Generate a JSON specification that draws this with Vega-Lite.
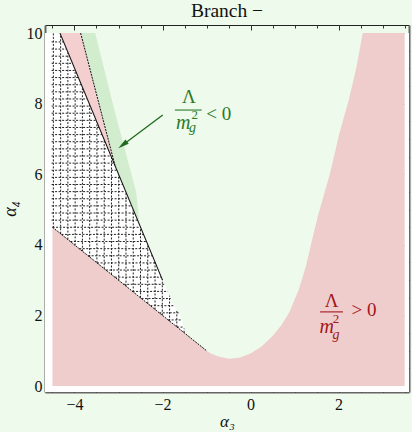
{
  "$schema": "https://vega.github.io/schema/vega-lite/v6.json",
  "width": 364,
  "height": 367,
  "autosize": {"type": "none"},
  "padding": {"left": 45, "top": 25, "right": 3, "bottom": 40},
  "background": "#eefaeb",
  "config": {
    "view": {"stroke": null},
    "font": "Liberation Serif",
    "axis": {"grid": false, "labelFont": "Liberation Serif", "titleFont": "Liberation Serif", "labelColor": "#111", "titleColor": "#111", "tickColor": "#333"}
  },
  "title": {"text": "Branch −", "font": "Liberation Serif", "fontSize": 19.5, "fontWeight": "normal", "color": "#111", "offset": 3},
  "datasets": {
    "strips": [
      {"x": -4.67, "x2": -4.5, "y": -0.17, "y2": 10},
      {"x": -4.67, "x2": 3.6, "y": -0.17, "y2": 0},
      {"x": 3.5, "x2": 3.6, "y": -0.17, "y2": 10}
    ],
    "positive": [
      {"x": -4.5, "top": 4.5}, {"x": -4.0, "top": 4.0}, {"x": -3.0, "top": 3.0}, {"x": -2.0, "top": 2.0},
      {"x": -1.0, "top": 1.0}, {"x": -0.9, "top": 0.92}, {"x": -0.75, "top": 0.84}, {"x": -0.5, "top": 0.77},
      {"x": -0.25, "top": 0.8}, {"x": 0.0, "top": 0.92}, {"x": 0.25, "top": 1.12}, {"x": 0.5, "top": 1.42},
      {"x": 0.7, "top": 1.72}, {"x": 0.88, "top": 2.08}, {"x": 1.1, "top": 2.75}, {"x": 1.26, "top": 3.4},
      {"x": 1.4, "top": 4.15}, {"x": 1.53, "top": 4.82}, {"x": 1.8, "top": 6.0}, {"x": 2.02, "top": 7.16},
      {"x": 2.23, "top": 8.1}, {"x": 2.4, "top": 9.0}, {"x": 2.55, "top": 10}, {"x": 3.5, "top": 10}
    ],
    "dotted": [
      {"x": -4.52, "top": 10, "bot": 4.52}, {"x": -4.33, "top": 10, "bot": 4.33}, {"x": -2.0, "top": 3.0, "bot": 2.0},
      {"x": -1.94, "top": 2.85, "bot": 1.94}, {"x": -1.87, "top": 2.65, "bot": 1.87}, {"x": -1.79, "top": 2.4, "bot": 1.79},
      {"x": -1.6, "top": 2.0, "bot": 1.6}, {"x": -1.5, "top": 1.6, "bot": 1.5}, {"x": -1.45, "top": 1.45, "bot": 1.45}
    ],
    "grid": [
      {"x": -4.48, "x2": -4.48, "y": 4.48, "y2": 10},
      {"x": -4.315, "x2": -4.315, "y": 4.315, "y2": 9.94},
      {"x": -4.15, "x2": -4.15, "y": 4.15, "y2": 9.45},
      {"x": -3.985, "x2": -3.985, "y": 3.985, "y2": 8.955},
      {"x": -3.82, "x2": -3.82, "y": 3.82, "y2": 8.46},
      {"x": -3.655, "x2": -3.655, "y": 3.655, "y2": 7.965},
      {"x": -3.49, "x2": -3.49, "y": 3.49, "y2": 7.47},
      {"x": -3.325, "x2": -3.325, "y": 3.325, "y2": 6.975},
      {"x": -3.16, "x2": -3.16, "y": 3.16, "y2": 6.48},
      {"x": -2.995, "x2": -2.995, "y": 2.995, "y2": 5.985},
      {"x": -2.83, "x2": -2.83, "y": 2.83, "y2": 5.49},
      {"x": -2.665, "x2": -2.665, "y": 2.665, "y2": 4.995},
      {"x": -2.5, "x2": -2.5, "y": 2.5, "y2": 4.5},
      {"x": -2.335, "x2": -2.335, "y": 2.335, "y2": 4.005},
      {"x": -2.17, "x2": -2.17, "y": 2.17, "y2": 3.51},
      {"x": -2.005, "x2": -2.005, "y": 2.005, "y2": 3.015},
      {"x": -1.84, "x2": -1.84, "y": 1.84, "y2": 2.56},
      {"x": -1.675, "x2": -1.675, "y": 1.675, "y2": 2.16},
      {"x": -1.51, "x2": -1.51, "y": 1.51, "y2": 1.63},
      {"x": -4.52, "x2": -4.25, "y": 9.75, "y2": 9.75},
      {"x": -4.52, "x2": -4.183, "y": 9.548, "y2": 9.548},
      {"x": -4.52, "x2": -4.115, "y": 9.346, "y2": 9.346},
      {"x": -4.52, "x2": -4.048, "y": 9.144, "y2": 9.144},
      {"x": -4.52, "x2": -3.981, "y": 8.942, "y2": 8.942},
      {"x": -4.52, "x2": -3.913, "y": 8.74, "y2": 8.74},
      {"x": -4.52, "x2": -3.846, "y": 8.538, "y2": 8.538},
      {"x": -4.52, "x2": -3.779, "y": 8.336, "y2": 8.336},
      {"x": -4.52, "x2": -3.711, "y": 8.134, "y2": 8.134},
      {"x": -4.52, "x2": -3.644, "y": 7.932, "y2": 7.932},
      {"x": -4.52, "x2": -3.577, "y": 7.73, "y2": 7.73},
      {"x": -4.52, "x2": -3.509, "y": 7.528, "y2": 7.528},
      {"x": -4.52, "x2": -3.442, "y": 7.326, "y2": 7.326},
      {"x": -4.52, "x2": -3.375, "y": 7.124, "y2": 7.124},
      {"x": -4.52, "x2": -3.307, "y": 6.922, "y2": 6.922},
      {"x": -4.52, "x2": -3.24, "y": 6.72, "y2": 6.72},
      {"x": -4.52, "x2": -3.173, "y": 6.518, "y2": 6.518},
      {"x": -4.52, "x2": -3.105, "y": 6.316, "y2": 6.316},
      {"x": -4.52, "x2": -3.038, "y": 6.114, "y2": 6.114},
      {"x": -4.52, "x2": -2.971, "y": 5.912, "y2": 5.912},
      {"x": -4.52, "x2": -2.903, "y": 5.71, "y2": 5.71},
      {"x": -4.52, "x2": -2.836, "y": 5.508, "y2": 5.508},
      {"x": -4.52, "x2": -2.769, "y": 5.306, "y2": 5.306},
      {"x": -4.52, "x2": -2.701, "y": 5.104, "y2": 5.104},
      {"x": -4.52, "x2": -2.634, "y": 4.902, "y2": 4.902},
      {"x": -4.52, "x2": -2.567, "y": 4.7, "y2": 4.7},
      {"x": -4.498, "x2": -2.499, "y": 4.498, "y2": 4.498},
      {"x": -4.296, "x2": -2.432, "y": 4.296, "y2": 4.296},
      {"x": -4.094, "x2": -2.365, "y": 4.094, "y2": 4.094},
      {"x": -3.892, "x2": -2.297, "y": 3.892, "y2": 3.892},
      {"x": -3.69, "x2": -2.23, "y": 3.69, "y2": 3.69},
      {"x": -3.488, "x2": -2.163, "y": 3.488, "y2": 3.488},
      {"x": -3.286, "x2": -2.095, "y": 3.286, "y2": 3.286},
      {"x": -3.084, "x2": -2.028, "y": 3.084, "y2": 3.084},
      {"x": -2.882, "x2": -1.953, "y": 2.882, "y2": 2.882},
      {"x": -2.68, "x2": -1.88, "y": 2.68, "y2": 2.68},
      {"x": -2.478, "x2": -1.815, "y": 2.478, "y2": 2.478},
      {"x": -2.276, "x2": -1.731, "y": 2.276, "y2": 2.276},
      {"x": -2.074, "x2": -1.635, "y": 2.074, "y2": 2.074},
      {"x": -1.872, "x2": -1.568, "y": 1.872, "y2": 1.872},
      {"x": -1.67, "x2": -1.518, "y": 1.67, "y2": 1.67}
    ],
    "pinkstrip": [
      {"x": -4.33, "top": 10, "bot": 10}, {"x": -3.86, "top": 10, "bot": 8.58}, {"x": -3.08, "top": 6.25, "bot": 6.24}
    ],
    "greenstrip": [
      {"y": 4.65, "xl": -2.55, "xr": -2.53}, {"y": 5.5, "xl": -2.83, "xr": -2.6}, {"y": 6.25, "xl": -3.08, "xr": -2.76},
      {"y": 8.0, "xl": -3.44, "xr": -3.13}, {"y": 10, "xl": -3.86, "xr": -3.53}
    ],
    "solid": [{"x": -4.33, "y": 10}, {"x": -2.0, "y": 3.0}],
    "dashes": [
      {"x": -4.5, "y": 4.5, "x2": -1.0, "y2": 1.0},
      {"x": -3.86, "y": 10, "x2": -3.08, "y2": 6.25}
    ],
    "arrow": [{"x": -1.995, "y": 7.68, "x2": -2.905, "y2": 6.83}],
    "bars": [
      {"x": -1.72, "x2": -1.11, "y": 7.82, "sign": "neg"},
      {"x": 1.58, "x2": 2.1, "y": 2.1, "sign": "pos"}
    ],
    "labels": [
      {"x": -1.4, "y": 8.19, "t": "Λ", "part": "big", "sign": "neg"},
      {"x": -1.53, "y": 7.45, "t": "m", "part": "it", "sign": "neg"},
      {"x": -1.27, "y": 7.68, "t": "2", "part": "sup", "sign": "neg"},
      {"x": -1.32, "y": 7.31, "t": "g", "part": "sub", "sign": "neg"},
      {"x": -0.72, "y": 7.71, "t": "< 0", "part": "big", "sign": "neg"},
      {"x": 1.84, "y": 2.42, "t": "Λ", "part": "big", "sign": "pos"},
      {"x": 1.73, "y": 1.67, "t": "m", "part": "it", "sign": "pos"},
      {"x": 1.94, "y": 1.9, "t": "2", "part": "sup", "sign": "pos"},
      {"x": 1.94, "y": 1.44, "t": "g", "part": "sub", "sign": "pos"},
      {"x": 2.58, "y": 2.15, "t": "> 0", "part": "big", "sign": "pos"}
    ]
  },
  "layer": [
    {
      "data": {"name": "strips"},
      "mark": {"type": "rect", "fill": "#ffffff"},
      "encoding": {
        "x": {"field": "x", "type": "quantitative", "scale": {"domain": [-4.67, 3.6], "nice": false, "zero": false},
          "axis": {"orient": "bottom", "values": [-4, -2, 0, 2], "ticks": false, "domainColor": "#666", "domainWidth": 2, "labelFontSize": 16, "labelPadding": 4, "title": "α₃", "titleFontSize": 17, "titleFontStyle": "italic", "titleFontWeight": "normal", "titlePadding": 1}},
        "x2": {"field": "x2"},
        "y": {"field": "y", "type": "quantitative", "scale": {"domain": [-0.17, 10.23], "nice": false, "zero": false},
          "axis": {"orient": "left", "values": [0, 2, 4, 6, 8, 10], "ticks": false, "domainColor": "#666", "domainWidth": 2, "labelFontSize": 16, "labelPadding": 3, "title": "α₄", "titleFontSize": 18, "titleFontStyle": "italic", "titleFontWeight": "normal", "titlePadding": 7}},
        "y2": {"field": "y2"}
      }
    },
    {
      "data": {"name": "positive"},
      "mark": {"type": "area", "orient": "vertical", "fill": "#efcdcd"},
      "encoding": {
        "x": {"field": "x", "type": "quantitative", "scale": {"domain": [-4.67, 3.6], "nice": false, "zero": false},
          "axis": {"orient": "bottom", "values": [-4, -2, 0, 2], "labels": false, "domain": false, "tickSize": -5, "title": null}},
        "y": {"field": "top", "type": "quantitative", "scale": {"domain": [-0.17, 10.23], "nice": false, "zero": false},
          "axis": {"orient": "left", "values": [0, 2, 4, 6, 8, 10], "labels": false, "domain": false, "tickSize": -5, "title": null}},
        "y2": {"datum": 0}
      }
    },
    {
      "data": {"name": "dotted"},
      "mark": {"type": "area", "orient": "vertical", "fill": "#ffffff"},
      "encoding": {
        "x": {"field": "x", "type": "quantitative", "scale": {"domain": [-4.67, 3.6], "nice": false, "zero": false},
          "axis": {"orient": "bottom", "values": [-4.5, -3.5, -3, -2.5, -1.5, -1, -0.5, 0.5, 1, 1.5, 2.5, 3, 3.5], "labels": false, "domain": false, "tickSize": -3, "title": null}},
        "y": {"field": "top", "type": "quantitative", "scale": {"domain": [-0.17, 10.23], "nice": false, "zero": false},
          "axis": {"orient": "left", "values": [0.5, 1, 1.5, 2.5, 3, 3.5, 4.5, 5, 5.5, 6.5, 7, 7.5, 8.5, 9, 9.5], "labels": false, "domain": false, "tickSize": -3, "title": null}},
        "y2": {"field": "bot"}
      }
    },
    {
      "data": {"name": "grid"},
      "mark": {"type": "rule", "color": "#222", "strokeWidth": 1, "strokeDash": [2, 1.5]},
      "encoding": {
        "x": {"field": "x", "type": "quantitative", "scale": {"domain": [-4.67, 3.6], "nice": false, "zero": false},
          "axis": {"orient": "top", "values": [-4, -2, 0, 2], "labels": false, "domainColor": "#222", "domainWidth": 1, "tickSize": -5, "title": null}},
        "x2": {"field": "x2"},
        "y": {"field": "y", "type": "quantitative", "scale": {"domain": [-0.17, 10.23], "nice": false, "zero": false},
          "axis": {"orient": "right", "values": [0, 2, 4, 6, 8, 10], "labels": false, "domainColor": "#666", "domainWidth": 2, "tickSize": -5, "title": null}},
        "y2": {"field": "y2"}
      }
    },
    {
      "data": {"name": "pinkstrip"},
      "mark": {"type": "area", "orient": "vertical", "fill": "#f3cfcf"},
      "encoding": {
        "x": {"field": "x", "type": "quantitative", "scale": {"domain": [-4.67, 3.6], "nice": false, "zero": false},
          "axis": {"orient": "top", "values": [-4.5, -3.5, -3, -2.5, -1.5, -1, -0.5, 0.5, 1, 1.5, 2.5, 3, 3.5], "labels": false, "domain": false, "tickSize": -3, "title": null}},
        "y": {"field": "top", "type": "quantitative", "scale": {"domain": [-0.17, 10.23], "nice": false, "zero": false},
          "axis": {"orient": "right", "values": [0.5, 1, 1.5, 2.5, 3, 3.5, 4.5, 5, 5.5, 6.5, 7, 7.5, 8.5, 9, 9.5], "labels": false, "domain": false, "tickSize": -3, "title": null}},
        "y2": {"field": "bot"}
      }
    },
    {
      "data": {"name": "greenstrip"},
      "mark": {"type": "area", "orient": "horizontal", "fill": "#d2ecce"},
      "encoding": {
        "y": {"field": "y", "type": "quantitative", "scale": {"domain": [-0.17, 10.23], "nice": false, "zero": false}, "axis": null},
        "x": {"field": "xl", "type": "quantitative", "scale": {"domain": [-4.67, 3.6], "nice": false, "zero": false}, "axis": null},
        "x2": {"field": "xr"}
      }
    },
    {
      "data": {"name": "solid"},
      "mark": {"type": "line", "color": "#111", "strokeWidth": 1.1},
      "encoding": {
        "x": {"field": "x", "type": "quantitative", "scale": {"domain": [-4.67, 3.6], "nice": false, "zero": false}, "axis": null},
        "y": {"field": "y", "type": "quantitative", "scale": {"domain": [-0.17, 10.23], "nice": false, "zero": false}, "axis": null}
      }
    },
    {
      "data": {"name": "dashes"},
      "mark": {"type": "rule", "color": "#111", "strokeWidth": 1, "strokeDash": [2, 1]},
      "encoding": {
        "x": {"field": "x", "type": "quantitative", "scale": {"domain": [-4.67, 3.6], "nice": false, "zero": false}, "axis": null},
        "x2": {"field": "x2"},
        "y": {"field": "y", "type": "quantitative", "scale": {"domain": [-0.17, 10.23], "nice": false, "zero": false}, "axis": null},
        "y2": {"field": "y2"}
      }
    },
    {
      "data": {"name": "arrow"},
      "mark": {"type": "rule", "color": "#1f6a1f", "strokeWidth": 1.3},
      "encoding": {
        "x": {"field": "x", "type": "quantitative", "scale": {"domain": [-4.67, 3.6], "nice": false, "zero": false}, "axis": null},
        "x2": {"field": "x2"},
        "y": {"field": "y", "type": "quantitative", "scale": {"domain": [-0.17, 10.23], "nice": false, "zero": false}, "axis": null},
        "y2": {"field": "y2"}
      }
    },
    {
      "data": {"name": "arrow"},
      "mark": {"type": "point", "shape": "M0,-1L0.5,1L-0.5,1Z", "filled": true, "color": "#1f6a1f", "opacity": 1, "size": 120, "angle": 233},
      "encoding": {
        "x": {"field": "x2", "type": "quantitative", "scale": {"domain": [-4.67, 3.6], "nice": false, "zero": false}, "axis": null},
        "y": {"field": "y2", "type": "quantitative", "scale": {"domain": [-0.17, 10.23], "nice": false, "zero": false}, "axis": null}
      }
    },
    {
      "data": {"name": "bars"},
      "mark": {"type": "rule", "strokeWidth": 1.1},
      "encoding": {
        "x": {"field": "x", "type": "quantitative", "scale": {"domain": [-4.67, 3.6], "nice": false, "zero": false}, "axis": null},
        "x2": {"field": "x2"},
        "y": {"field": "y", "type": "quantitative", "scale": {"domain": [-0.17, 10.23], "nice": false, "zero": false}, "axis": null},
        "color": {"field": "sign", "type": "nominal", "scale": {"domain": ["neg", "pos"], "range": ["#2a7a2a", "#a3161b"]}, "legend": null}
      }
    },
    {
      "data": {"name": "labels"},
      "transform": [{"filter": "datum.part === 'big'"}],
      "mark": {"type": "text", "font": "Liberation Serif", "fontSize": 19, "align": "center", "baseline": "middle"},
      "encoding": {
        "x": {"field": "x", "type": "quantitative", "scale": {"domain": [-4.67, 3.6], "nice": false, "zero": false}, "axis": null},
        "y": {"field": "y", "type": "quantitative", "scale": {"domain": [-0.17, 10.23], "nice": false, "zero": false}, "axis": null},
        "text": {"field": "t"},
        "color": {"field": "sign", "type": "nominal", "scale": {"domain": ["neg", "pos"], "range": ["#2a7a2a", "#a3161b"]}, "legend": null}
      }
    },
    {
      "data": {"name": "labels"},
      "transform": [{"filter": "datum.part === 'it'"}],
      "mark": {"type": "text", "font": "Liberation Serif", "fontSize": 20, "fontStyle": "italic", "align": "center", "baseline": "middle"},
      "encoding": {
        "x": {"field": "x", "type": "quantitative", "scale": {"domain": [-4.67, 3.6], "nice": false, "zero": false}, "axis": null},
        "y": {"field": "y", "type": "quantitative", "scale": {"domain": [-0.17, 10.23], "nice": false, "zero": false}, "axis": null},
        "text": {"field": "t"},
        "color": {"field": "sign", "type": "nominal", "scale": {"domain": ["neg", "pos"], "range": ["#2a7a2a", "#a3161b"]}, "legend": null}
      }
    },
    {
      "data": {"name": "labels"},
      "transform": [{"filter": "datum.part === 'sup'"}],
      "mark": {"type": "text", "font": "Liberation Serif", "fontSize": 13, "align": "center", "baseline": "middle"},
      "encoding": {
        "x": {"field": "x", "type": "quantitative", "scale": {"domain": [-4.67, 3.6], "nice": false, "zero": false}, "axis": null},
        "y": {"field": "y", "type": "quantitative", "scale": {"domain": [-0.17, 10.23], "nice": false, "zero": false}, "axis": null},
        "text": {"field": "t"},
        "color": {"field": "sign", "type": "nominal", "scale": {"domain": ["neg", "pos"], "range": ["#2a7a2a", "#a3161b"]}, "legend": null}
      }
    },
    {
      "data": {"name": "labels"},
      "transform": [{"filter": "datum.part === 'sub'"}],
      "mark": {"type": "text", "font": "Liberation Serif", "fontSize": 14, "fontStyle": "italic", "align": "center", "baseline": "middle"},
      "encoding": {
        "x": {"field": "x", "type": "quantitative", "scale": {"domain": [-4.67, 3.6], "nice": false, "zero": false}, "axis": null},
        "y": {"field": "y", "type": "quantitative", "scale": {"domain": [-0.17, 10.23], "nice": false, "zero": false}, "axis": null},
        "text": {"field": "t"},
        "color": {"field": "sign", "type": "nominal", "scale": {"domain": ["neg", "pos"], "range": ["#2a7a2a", "#a3161b"]}, "legend": null}
      }
    }
  ],
  "resolve": {"axis": {"x": "independent", "y": "independent"}}
}
